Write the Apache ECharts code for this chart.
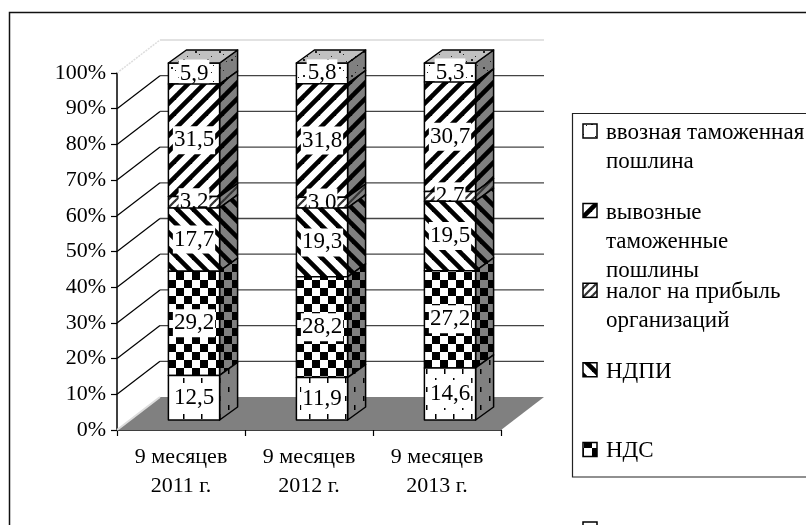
<!DOCTYPE html>
<html><head><meta charset="utf-8">
<style>html,body{margin:0;padding:0;background:#fff}#c{width:806px;height:525px}</style>
<script src="https://cdn.jsdelivr.net/npm/echarts@6/dist/echarts.min.js"></script>
</head><body><div id="c"></div>
<script>
const categories = ['9 месяцев\n2011 г.', '9 месяцев\n2012 г.', '9 месяцев\n2013 г.'];
const yTicks = [0,10,20,30,40,50,60,70,80,90,100];
const vvoznaya = [5.9, 5.8, 5.3];
const vyvoznye = [31.5, 31.8, 30.7];
const nalog = [3.2, 3.0, 2.7];
const ndpi = [17.7, 19.3, 19.5];
const nds = [29.2, 28.2, 27.2];
const prochie = [12.5, 11.9, 14.6];
const legendNames = ['ввозная таможенная\nпошлина','вывозные\nтаможенные\nпошлины','налог на прибыль\nорганизаций','НДПИ','НДС',''];

const FONT = '"Liberation Serif","Times New Roman",serif';
function tile(w,h,bg,draw){const c=document.createElement('canvas');c.width=w;c.height=h;const g=c.getContext('2d');g.fillStyle=bg;g.fillRect(0,0,w,h);g.fillStyle='#000';g.strokeStyle='#000';draw(g);return {image:c,repeat:'repeat'};}
function diag(g,w,h,lw,up,col){g.lineWidth=lw;g.strokeStyle=col||'#000';for(let i=-2;i<=2;i++){g.beginPath();if(up){g.moveTo(i*w-w,2*h);g.lineTo(i*w+2*w,-h);}else{g.moveTo(i*w-w,-h);g.lineTo(i*w+2*w,2*h);}g.stroke();}}
const pats = {
  dots:b=>tile(24,16,b,g=>{g.fillStyle='#222';g.fillRect(3,3,2,2);g.fillRect(7,6,1,1);g.fillRect(15,11,2,2);g.fillRect(19,8,1,1);g.fillRect(10,13,1,1);g.fillRect(21,1,1,1);}),
  up:b=>tile(16,16,b,g=>diag(g,16,16,4.6,true)),
  fine:b=>tile(8,8,b,g=>diag(g,8,8,2.2,true,'#333')),
  down:b=>tile(16,16,b,g=>diag(g,16,16,4.6,false)),
  check:b=>tile(16,16,b,g=>{g.fillRect(0,0,8,8);g.fillRect(8,8,8,8);}),
  dash:b=>tile(18,18,b,g=>{g.fillRect(3,0,1.5,5);g.fillRect(12,9,1.5,5);})
};
// depth of the pseudo-3D box (style)
const WALL = {dx:43, dy:-33};
const BOX = {ox:13, oy:-10, dx:18, dy:-13, ratio:0.4};

const stackTopDown = [
  {name:legendNames[0], values:vvoznaya, p:'dots'},
  {name:legendNames[1], values:vyvoznye, p:'up'},
  {name:legendNames[2], values:nalog, p:'fine'},
  {name:legendNames[3], values:ndpi, p:'down'},
  {name:legendNames[4], values:nds, p:'check'},
  {name:'', values:prochie, p:'dash'}
];
stackTopDown.forEach(s=>{s.front=pats[s.p]('#fff');s.side=pats[s.p]('#808080');});
const topFace = pats.dots('#c0c0c0');

function starts(idx){
  return categories.map((_,c)=>{let t=0;for(let k=idx+1;k<stackTopDown.length;k++)t+=stackTopDown[k].values[c];return t;});
}
function barSeries(s,idx){
  const base=starts(idx);
  return {type:'custom',name:s.name||'прочие',coordinateSystem:'cartesian2d',silent:true,clip:false,
    data:s.values.map((v,c)=>[c,base[c],base[c]+v,v]),encode:{x:0,y:[1,2]},
    renderItem(params,api){
      const c=api.value(0),a=api.value(1),b=api.value(2),v=api.value(3);
      const w=api.size([1,0])[0]*BOX.ratio;
      const p0=api.coord([c,a]),p1=api.coord([c,b]);
      const x0=p0[0]+BOX.ox-w/2,x1=x0+w,yb=p0[1]+BOX.oy,yt=p1[1]+BOX.oy;
      const line={stroke:'#000',lineWidth:1.5,lineJoin:'round'};
      const kids=[
        {type:'polygon',shape:{points:[[x1,yb],[x1,yt],[x1+BOX.dx,yt+BOX.dy],[x1+BOX.dx,yb+BOX.dy]]},style:Object.assign({fill:s.side},line)},
        {type:'rect',shape:{x:x0,y:yt,width:w,height:yb-yt},style:Object.assign({fill:s.front},line)}
      ];
      if(idx===0){kids.push({type:'polygon',shape:{points:[[x0,yt],[x1,yt],[x1+BOX.dx,yt+BOX.dy],[x0+BOX.dx,yt+BOX.dy]]},style:Object.assign({fill:topFace},line)});}
      kids.push({type:'text',style:{text:v.toFixed(1).replace('.',','),x:(x0+x1)/2,y:(yb+yt)/2,align:'center',verticalAlign:'middle',font:'23px '+FONT,fill:'#000',backgroundColor:'#fff',padding:[3,1,2,1]}});
      return {type:'group',children:kids};
    }};
}
const wallSeries={type:'custom',coordinateSystem:'cartesian2d',silent:true,clip:false,z:1,
  data:yTicks.map(t=>[0,t]),encode:{x:0,y:1},
  renderItem(params,api){
    const t=api.value(1),y=api.coord([0,t])[1],L=params.coordSys.x,R=L+params.coordSys.width;
    const kids=[];
    if(t===0){
      kids.push({type:'polygon',shape:{points:[[L,y],[L+WALL.dx,y+WALL.dy],[R+WALL.dx,y+WALL.dy],[R,y]]},style:{fill:'#808080'}});
      kids.push({type:'line',shape:{x1:L,y1:y,x2:L+WALL.dx,y2:y+WALL.dy},style:{stroke:'#dddddd',lineWidth:2}});
    } else {
      const top=t===100;
      kids.push({type:'line',shape:{x1:L,y1:y,x2:L+WALL.dx,y2:y+WALL.dy},style:{stroke:top?'#dddddd':'#000',lineWidth:top?1.5:1.2,lineDash:top?[2,1]:null}});
      kids.push({type:'line',shape:{x1:L+WALL.dx,y1:y+WALL.dy,x2:R+WALL.dx,y2:y+WALL.dy},style:{stroke:top?'#e2e2e2':'#444',lineWidth:top?2:1.3}});
    }
    return {type:'group',children:kids};
  }};

const LEG = {x:606,iconX:583,y0:133,step:79.6,lh:29};
const graphics=[
  {type:'rect',shape:{x:9.5,y:12.5,width:900,height:600},style:{fill:'none',stroke:'#111',lineWidth:1.5},silent:true,z:0},
  {type:'rect',shape:{x:572.5,y:113.5,width:400,height:363.5},style:{fill:'none',stroke:'#222',lineWidth:1.2},silent:true,z:0}
];
stackTopDown.forEach((s,i)=>{
  const y=LEG.y0+i*LEG.step;
  graphics.push({type:'rect',shape:{x:LEG.iconX,y:y-9,width:14,height:14},style:{fill:s.front,stroke:'#000',lineWidth:1.5},silent:true,z:5});
  if(s.name)graphics.push({type:'text',x:LEG.x,y:y-LEG.lh/2,style:{text:s.name,font:'23px '+FONT,fill:'#000',lineHeight:LEG.lh,align:'left',verticalAlign:'top'},silent:true,z:5});
});

const chart=echarts.init(document.getElementById('c'),null,{renderer:'canvas'});
chart.setOption({
  animation:false,backgroundColor:'#fff',tooltip:{show:false},
  grid:{left:117,top:73,width:384,height:357,containLabel:false},
  xAxis:{type:'category',data:categories,axisLine:{lineStyle:{color:'#000',width:1.5}},
    axisTick:{show:true,length:6,alignWithLabel:false,lineStyle:{color:'#000',width:1.2}},
    axisLabel:{color:'#000',fontFamily:FONT,fontSize:22,lineHeight:29,margin:13,interval:0},splitLine:{show:false}},
  yAxis:{type:'value',min:0,max:100,interval:10,axisLine:{show:true,lineStyle:{color:'#000',width:1.5}},
    axisTick:{show:true,length:6,lineStyle:{color:'#000',width:1.2}},
    axisLabel:{color:'#000',fontFamily:FONT,fontSize:22,margin:11,formatter:'{value}%'},splitLine:{show:false}},
  graphic:graphics,
  series:[wallSeries].concat(stackTopDown.map(barSeries))
});
</script></body></html>
